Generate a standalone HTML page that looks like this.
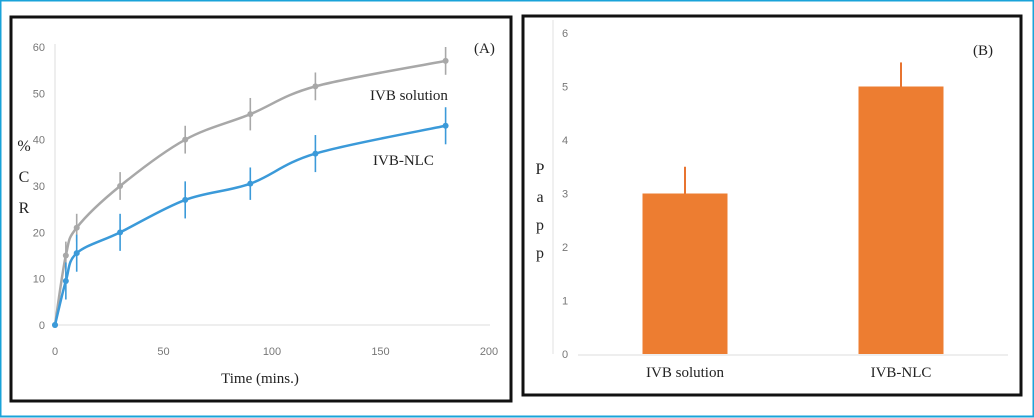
<!DOCTYPE html>
<html><head><meta charset="utf-8"><style>
html,body{margin:0;padding:0;background:#fff}
body{width:1034px;height:418px;overflow:hidden;position:relative}
svg{position:absolute;left:0;top:0}
text{font-family:"Liberation Serif",serif}
.tk{font-family:"Liberation Sans",sans-serif;font-size:11px;fill:#777}
</style></head><body>
<svg width="1034" height="418" viewBox="0 0 1034 418">
<rect x="0.5" y="0.5" width="1033" height="416" fill="none" stroke="#1aa3d9" stroke-width="2"/>
<rect x="11" y="17" width="500" height="384" fill="none" stroke="#111" stroke-width="3"/>
<rect x="523" y="16" width="498" height="379" fill="none" stroke="#111" stroke-width="3"/>
<g id="chartA"></g>
<g id="chartB"></g>
</svg>
<script>
const times=[0,5,10,30,60,90,120,180];
const solution=[0,15,21,30,40,45.5,51.5,57];
const solutionErr=[0,3,3,3,3,3.5,3,3];
const nlc=[0,9.5,15.5,20,27,30.5,37,43];
const nlcErr=[0,4,4,4,4,3.5,4,4];
const xTicks=[0,50,100,150,200];
const yTicks=[0,10,20,30,40,50,60];
const barCats=["IVB solution","IVB-NLC"];
const barVals=[3,5];
const barErr=[0.5,0.45];
const bTicks=[0,1,2,3,4,5,6];

const NS="http://www.w3.org/2000/svg";
function mk(parent,tag,attrs,txt){const e=document.createElementNS(NS,tag);for(const k in attrs)e.setAttribute(k,attrs[k]);if(txt!==undefined)e.textContent=txt;parent.appendChild(e);return e;}

// Chart A
const A=document.getElementById('chartA');
const ax=t=>55+t*(434/200);
const ay=v=>325-v*(278/60);
let e;
e=mk(A,'line',{x1:55,y1:44,x2:55,y2:325,stroke:'#ddd','stroke-width':1});


e=mk(A,'line',{x1:55,y1:325,x2:490,y2:325,stroke:'#ddd','stroke-width':1});


yTicks.forEach(v=>{e=mk(A,'text',{x:45,y:ay(v)+4,'text-anchor':'end',class:'tk'},v);

});
xTicks.forEach(v=>{e=mk(A,'text',{x:ax(v),y:355,'text-anchor':'middle',class:'tk'},v);

});
function smooth(xs,ys){let d=`M${ax(xs[0])},${ay(ys[0])}`;for(let i=0;i<xs.length-1;i++){const p0=[ax(xs[Math.max(0,i-1)]),ay(ys[Math.max(0,i-1)])],p1=[ax(xs[i]),ay(ys[i])],p2=[ax(xs[i+1]),ay(ys[i+1])],p3=[ax(xs[Math.min(xs.length-1,i+2)]),ay(ys[Math.min(xs.length-1,i+2)])];const c1=[p1[0]+(p2[0]-p0[0])/6,p1[1]+(p2[1]-p0[1])/6],c2=[p2[0]-(p3[0]-p1[0])/6,p2[1]-(p3[1]-p1[1])/6];d+=` C${c1[0]},${c1[1]} ${c2[0]},${c2[1]} ${p2[0]},${p2[1]}`;}return d;}
function series(vals,errs,color,name){
 e=mk(A,'path',{d:smooth(times,vals),fill:'none',stroke:color,'stroke-width':2.5});
 
 
 vals.forEach((v,i)=>{
  if(errs[i]>0){e=mk(A,'line',{x1:ax(times[i]),x2:ax(times[i]),y1:ay(v+errs[i]),y2:ay(v-errs[i]),stroke:color,'stroke-width':1.6});
  
  }
  e=mk(A,'circle',{cx:ax(times[i]),cy:ay(v),r:3,fill:color});
  
  
 });
}
series(solution,solutionErr,'#a8a8a8','ivb-solution');
series(nlc,nlcErr,'#3b9ad9','ivb-nlc');
e=mk(A,'text',{x:474,y:53,'font-size':15,fill:'#222'},'(A)');


e=mk(A,'text',{x:370,y:100,'font-size':15,fill:'#222'},'IVB solution');


e=mk(A,'text',{x:373,y:165,'font-size':15,fill:'#222'},'IVB-NLC');


['%','C','R'].forEach((c,i)=>{e=mk(A,'text',{x:24,y:151+i*31,'font-size':16,'text-anchor':'middle',fill:'#222'},c);

});
e=mk(A,'text',{x:260,y:383,'font-size':15,'text-anchor':'middle',fill:'#222'},'Time (mins.)');



// Chart B
const B=document.getElementById('chartB');
const by=v=>354-v*(321/6);
const bx=i=>685+i*216;
e=mk(B,'line',{x1:553,y1:20,x2:553,y2:354,stroke:'#e2e2e2','stroke-width':1});


e=mk(B,'line',{x1:578,y1:355,x2:1008,y2:355,stroke:'#ddd','stroke-width':1});


bTicks.forEach(v=>{e=mk(B,'text',{x:565,y:by(v)+4,'text-anchor':'middle',class:'tk','font-size':10},v);

});
barVals.forEach((v,i)=>{
 e=mk(B,'rect',{x:bx(i)-42.5,y:by(v),width:85,height:by(0)-by(v),fill:'#ed7d31'});
 
 
 e=mk(B,'line',{x1:bx(i),x2:bx(i),y1:by(v+barErr[i]),y2:by(v),stroke:'#e5641a','stroke-width':1.8});
 
 
 e=mk(B,'text',{x:bx(i),y:377,'font-size':15,'text-anchor':'middle',fill:'#222'},barCats[i]);
 
 
});
e=mk(B,'text',{x:973,y:55,'font-size':15,fill:'#222'},'(B)');


['P','a','p','p'].forEach((c,i)=>{e=mk(B,'text',{x:540,y:174+i*28,'font-size':16,'text-anchor':'middle',fill:'#222'},c);

});
</script>
</body></html>
